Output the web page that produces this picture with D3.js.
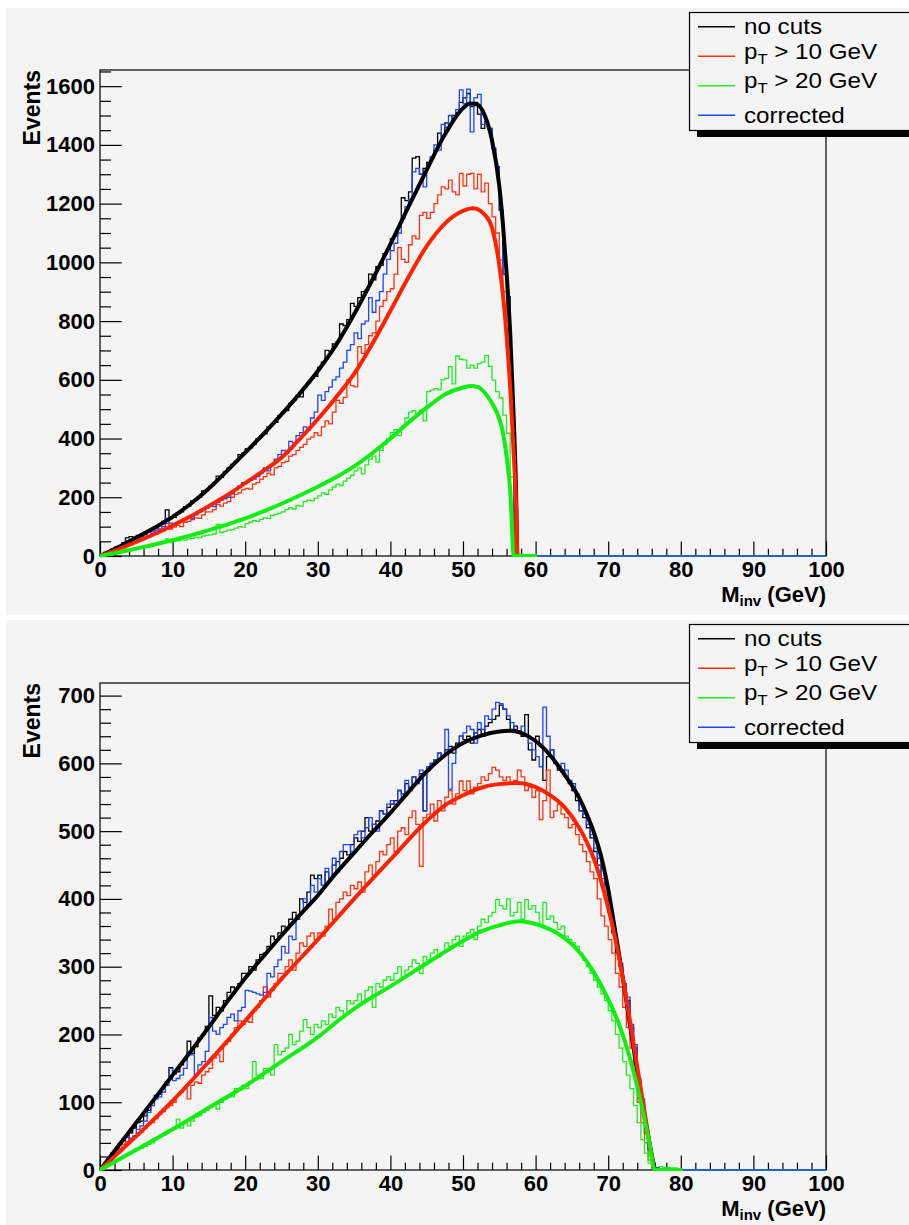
<!DOCTYPE html>
<html>
<head>
<meta charset="utf-8">
<script src="https://cdn.jsdelivr.net/npm/d3@7"></script>
<style>
  html, body { margin: 0; padding: 0; background: #ffffff; }
  svg { display: block; }
</style>
</head>
<body>
<svg id="chart" width="909" height="1225"></svg>
<script>
// ---------------------------------------------------------------------------
// Invariant-mass spectra, 0.5 GeV bins starting at 0 GeV (bins past the end
// of each list are empty).
// ---------------------------------------------------------------------------
const binWidth = 0.5;
const xTicks = [0, 10, 20, 30, 40, 50, 60, 70, 80, 90, 100];
const topYTicks = [0, 200, 400, 600, 800, 1000, 1200, 1400, 1600];
const bottomYTicks = [0, 100, 200, 300, 400, 500, 600, 700];
const legendLabels = ["no cuts", "p_T > 10 GeV", "p_T > 20 GeV", "corrected"];
const xTitle = ["M", "inv", " (GeV)"];
const yTitle = "Events";

// upper panel
const topNoCuts = [
  4,12,16,24,30,35,45,62,66,64,
  70,74,80,85,92,97,108,118,157,130,
  132,145,150,168,170,188,192,200,222,225,
  238,250,272,268,286,300,312,322,345,350,
  365,368,380,400,410,416,440,448,455,478,
  490,495,520,530,545,542,575,590,605,612,
  642,660,700,698,722,728,790,785,805,860,
  850,880,900,905,960,940,985,990,1030,1045,
  1080,1090,1120,1220,1210,1240,1355,1360,1300,1320,
  1340,1355,1380,1440,1430,1475,1470,1500,1510,1545,
  1560,1575,1530,1545,1505,1456,1480,1456,1388,1325,1178,960,883,538
];
const topPt10 = [
  3,8,14,18,24,28,33,40,44,46,
  50,56,60,64,70,75,80,86,110,92,
  98,104,100,115,118,124,130,128,140,150,
  150,158,175,170,180,185,200,210,215,225,
  230,228,245,250,262,270,282,276,300,305,
  318,322,340,345,360,370,380,398,405,420,
  410,440,460,450,490,530,520,540,600,580,
  576,713,690,720,750,760,800,850,870,900,
  910,960,1050,1010,1000,1060,1090,1080,1160,1170,
  1150,1170,1200,1230,1257,1250,1280,1240,1230,1303,
  1260,1300,1303,1250,1300,1240,1270,1200,1155,1100,1008,900,800,535
];
const topPt20 = [
  1,4,6,9,12,14,16,19,22,24,
  26,28,30,32,35,38,40,44,58,46,
  50,52,55,54,58,60,64,62,68,70,
  72,75,108,80,84,88,90,95,100,98,
  110,115,120,118,125,130,128,138,142,146,
  150,158,165,160,172,170,185,190,188,196,
  205,215,210,225,235,245,240,255,265,275,
  290,300,280,310,330,340,320,360,380,400,
  420,430,410,440,470,490,495,480,497,460,
  560,565,570,566,600,605,645,586,681,670,
  668,640,650,640,655,660,683,646,599,560,538,480,418,269
];
const topCorrected = [
  3,10,15,20,27,33,40,52,55,58,
  62,66,72,70,82,88,92,100,128,112,
  110,112,118,125,135,128,140,150,155,162,
  170,168,182,190,195,200,212,225,238,250,
  252,258,262,270,282,300,290,310,330,345,
  360,350,390,385,410,420,440,430,470,490,
  548,530,560,575,600,610,640,660,700,720,
  760,740,790,800,880,830,870,900,960,1010,
  1040,1065,1100,1150,1190,1215,1308,1320,1300,1257,
  1330,1360,1400,1382,1470,1460,1500,1490,1520,1587,
  1540,1590,1444,1560,1572,1470,1480,1456,1388,1325,1178,960,883,538
];

// fitted curves, upper panel: [mass, events]
const topFitNoCuts = [
  [0,0],[2.5,30],[5,62],[7.5,96],[10,133],[12.5,178],[15,230],[17.5,290],[20,352],
  [22.5,415],[25,482],[27.5,553],[30,630],[32.5,718],[35,823],[37.5,940],[40,1062],
  [42.5,1190],[45,1315],[47.5,1435],[50,1525],[51,1541],[52,1537],[53,1500],[54,1415],
  [55,1260],[55.5,1130],[56,965],[56.5,760],[57,460],[57.3,230],[57.5,0],[60,0]
];
const topFitPt10 = [
  [0,0],[2.5,23],[5,48],[7.5,75],[10,104],[12.5,135],[15,170],[17.5,207],[20,248],
  [22.5,290],[25,335],[27.5,398],[30,466],[32.5,540],[35,620],[37.5,722],[40,835],
  [42.5,950],[45,1055],[47.5,1132],[50,1175],[51.4,1184],[53,1162],[54,1118],[55,990],
  [55.5,890],[56,752],[56.5,575],[57,345],[57.3,180],[57.5,0],[60,0]
];
const topFitPt20 = [
  [0,0],[2.5,12],[5,25],[7.5,39],[10,54],[12.5,70],[15,88],[17.5,107],[20,128],
  [22.5,152],[25,178],[27.5,206],[30,236],[32.5,268],[35,305],[37.5,350],[40,400],
  [42.5,455],[45,505],[47.5,550],[50,574],[51.2,579],[52,576],[53,556],[54,520],
  [55,467],[55.5,420],[56,340],[56.5,225],[57,0],[60,0]
];

// lower panel
const bottomNoCuts = [
  3,10,18,25,30,38,45,42,55,62,
  70,72,80,88,100,110,112,120,130,151,
  142,145,155,162,190,172,182,195,200,212,
  257,228,240,235,250,262,270,268,275,290,
  290,300,295,310,318,320,330,345,340,350,
  360,355,370,380,375,400,395,410,435,430,
  435,420,440,430,450,455,460,470,465,480,
  490,485,500,520,500,510,515,530,525,535,
  540,545,560,555,570,565,580,575,585,530,
  590,600,605,615,610,620,625,615,630,640,
  635,640,630,645,650,640,655,660,665,670,
  686,680,665,650,655,648,640,672,620,605,
  640,625,575,610,620,600,590,590,580,570,
  560,545,530,520,505,490,470,450,420,400,
  380,350,320,300,270,250,210,180,130,100,
  55,30,8,3
];
const bottomPt10 = [
  3,8,14,20,26,32,38,42,46,50,
  52,56,62,68,70,76,82,86,92,95,
  100,110,115,120,105,125,130,128,140,145,
  150,165,170,160,185,190,200,210,220,215,
  220,218,235,240,250,270,255,265,275,290,
  290,300,310,295,320,335,330,345,350,340,
  350,345,360,385,370,395,400,410,405,420,
  415,425,410,440,450,435,455,470,465,480,
  490,470,500,505,495,520,530,510,448,520,
  525,540,515,545,530,550,560,540,555,574,
  560,574,555,565,570,580,575,585,594,590,
  580,575,580,570,575,590,580,560,565,550,
  560,517,545,590,520,530,540,525,520,505,
  510,495,480,470,455,440,430,400,375,360,
  340,320,290,270,240,210,180,140,100,70,
  40,15,4,0
];
const bottomPt20 = [
  2,5,8,11,14,17,20,23,26,29,
  30,32,35,38,40,45,48,52,55,58,
  60,75,62,70,65,72,78,80,85,88,
  92,95,90,100,105,110,108,120,118,125,
  120,130,160,140,135,150,145,140,185,170,
  175,180,200,185,190,205,222,210,200,215,
  210,220,215,230,225,240,235,230,250,245,
  250,260,245,265,270,240,275,270,280,285,
  280,290,300,285,295,300,310,305,290,315,
  310,320,325,315,320,335,330,340,345,330,
  345,350,355,340,360,370,365,375,380,399,
  390,385,400,375,380,395,370,399,385,390,
  380,360,395,370,375,365,355,360,345,340,
  335,330,320,310,300,290,280,270,260,250,
  235,220,200,180,160,140,120,95,70,45,
  25,10,5,3,5,4,4,3,3,2
];
const bottomCorrected = [
  3,9,17,24,30,38,45,48,47,50,
  60,65,72,85,95,105,108,115,125,150,
  132,135,140,150,172,170,140,155,160,175,
  225,205,200,210,215,225,230,220,235,240,
  265,264,262,260,258,262,290,285,300,310,
  330,320,345,340,370,380,400,390,420,410,
  430,420,445,430,460,440,470,480,480,470,
  495,500,490,505,520,510,500,530,525,540,
  545,540,560,550,575,560,580,570,590,530,
  595,600,605,615,610,650,562,600,625,640,
  645,655,650,630,660,650,670,665,680,690,
  688,680,670,660,650,645,655,640,630,620,
  610,595,683,640,620,600,595,600,590,575,
  570,555,530,525,510,495,475,460,430,410,
  385,355,330,305,275,255,215,185,135,105,
  60,30,10,3
];

// fitted curves, lower panel
const bottomFitNoCuts = [
  [0,0],[2.5,35],[5,70],[7.5,105],[10,140],[12.5,175],[15,211],[17.5,248],[20,283],
  [22.5,315],[25,346],[27.5,376],[30,405],[32.5,438],[35,468],[37.5,498],[40,527],
  [42.5,558],[45,588],[47.5,612],[50,630],[52.5,641],[55,647],[56.5,648],[58,645],
  [60,633],[62,612],[64,583],[66,549],[67,526],[68,499],[69,464],[70,414],[70.7,370],
  [71.5,318],[72.3,264],[73,214],[74,145],[75,80],[75.5,50],[76,22],[76.5,0],[80,0]
];
const bottomFitPt10 = [
  [0,0],[5,50],[10,102],[15,160],[20,220],[25,282],[30,340],[35,400],[40,458],
  [45,515],[47.5,538],[50,553],[52.5,564],[54.6,569],[57.4,571],[60,565],[62,553],
  [64,535],[66,505],[67,485],[68,460],[69,427],[70,387],[71,340],[72,284],[73,220],
  [74,152],[75,86],[75.5,53],[76,20],[76.4,0],[80,0]
];
const bottomFitPt20 = [
  [0,0],[5,30],[10,60],[15,92],[20,124],[25,160],[30,196],[33,222],[36,245],[40,271],
  [45,305],[50,338],[52.5,352],[55,361],[57.8,367],[60,363],[62,355],[64,342],
  [66,322],[68,292],[70,252],[71.6,212],[73,165],[74.4,105],[75.7,38],[76.4,0],[80,0]
];

// ---------------------------------------------------------------------------
const FONT = "'Liberation Sans', Arial, Helvetica, sans-serif";
const histColors = ["#000000", "#ff3311", "#22ee22", "#1f44ff"];
const fitColors = ["#000000", "#ff2200", "#11ee11"];
// text baselines of the legend rows, relative to the legend top
const legendBaselines = [21.5, 46.5, 75.5, 111];

const svg = d3.select("#chart");

const panels = [
  {
    padTop: 8, padHeight: 607, frameTop: 70, zeroY: 556, yMax: 1655,
    yMajor: topYTicks, yMinorStep: 50,
    hists: [topNoCuts, topPt10, topPt20, topCorrected],
    fits: [topFitNoCuts, topFitPt10, topFitPt20],
    legendTop: 12, id: "top"
  },
  {
    padTop: 620, padHeight: 605, frameTop: 683, zeroY: 1170, yMax: 718.6,
    yMajor: bottomYTicks, yMinorStep: 20,
    hists: [bottomNoCuts, bottomPt10, bottomPt20, bottomCorrected],
    fits: [bottomFitNoCuts, bottomFitPt10, bottomFitPt20],
    legendTop: 624, id: "bottom"
  }
];

panels.forEach(p => {
  const g = svg.append("g");

  // pad background
  g.append("rect")
    .attr("x", 6).attr("y", p.padTop)
    .attr("width", 903).attr("height", p.padHeight)
    .attr("fill", "#f4f4f4");

  const x = d3.scaleLinear().domain([0, 100]).range([100, 826]);
  const y = d3.scaleLinear().domain([0, p.yMax]).range([p.zeroY, p.frameTop]);

  const clipId = "clip-" + p.id;
  g.append("clipPath").attr("id", clipId)
    .append("rect")
    .attr("x", 100).attr("y", p.frameTop - 2)
    .attr("width", 727).attr("height", p.zeroY - p.frameTop + 3);

  // frame
  g.append("rect")
    .attr("x", 100).attr("y", p.frameTop)
    .attr("width", 726).attr("height", p.zeroY - p.frameTop)
    .attr("fill", "none").attr("stroke", "#000").attr("stroke-width", 1.2);

  // y axis: major ticks with labels, minor ticks inward
  const yMinor = d3.range(0, p.yMax, p.yMinorStep).filter(v => p.yMajor.indexOf(v) < 0);
  const yAxisMajor = d3.axisLeft(y).tickValues(p.yMajor).tickSize(-21.8).tickPadding(5)
    .tickFormat(d3.format("d"));
  const yAxisMinor = d3.axisLeft(y).tickValues(yMinor).tickSize(-11).tickFormat("");
  const ya = g.append("g").attr("transform", "translate(100,0)").call(yAxisMajor);
  g.append("g").attr("transform", "translate(100,0)").call(yAxisMinor);

  // x axis
  const xMinor = d3.range(0, 100, 2).filter(v => v % 10 !== 0);
  const xAxisMajor = d3.axisBottom(x).tickValues(xTicks).tickSize(-14.6).tickPadding(5)
    .tickFormat(d3.format("d"));
  const xAxisMinor = d3.axisBottom(x).tickValues(xMinor).tickSize(-7.3).tickFormat("");
  const xa = g.append("g").attr("transform", `translate(0,${p.zeroY})`).call(xAxisMajor);
  g.append("g").attr("transform", `translate(0,${p.zeroY})`).call(xAxisMinor);

  g.selectAll(".domain").remove();
  g.selectAll(".tick line").attr("stroke", "#000").attr("stroke-width", 1.2);
  [ya, xa].forEach(a => a.selectAll("text")
    .attr("font-family", FONT).attr("font-weight", "bold")
    .attr("font-size", 22).attr("fill", "#000"));

  // histograms drawn as steps
  const stepLine = d3.line()
    .x(d => x(d[0])).y(d => y(d[1]))
    .curve(d3.curveStepAfter);
  const plot = g.append("g").attr("clip-path", `url(#${clipId})`);
  p.hists.forEach((vals, k) => {
    const pts = d3.range(200).map(i => [i * binWidth, i < vals.length ? vals[i] : 0]);
    pts.push([100, 0]);
    plot.append("path")
      .attr("d", stepLine(pts))
      .attr("fill", "none")
      .attr("stroke", histColors[k])
      .attr("stroke-width", 1.3);
  });

  // smooth fit curves
  const fitLine = d3.line()
    .x(d => x(d[0])).y(d => y(d[1]))
    .curve(d3.curveMonotoneX);
  p.fits.forEach((pts, k) => {
    plot.append("path")
      .attr("d", fitLine(pts))
      .attr("fill", "none")
      .attr("stroke", fitColors[k])
      .attr("stroke-width", 4)
      .attr("stroke-linejoin", "round")
      .attr("stroke-linecap", "round");
  });

  // axis titles
  const xt = g.append("text")
    .attr("x", 826).attr("y", p.zeroY + 46)
    .attr("text-anchor", "end")
    .attr("font-family", FONT).attr("font-weight", "bold")
    .attr("font-size", 22).attr("fill", "#000");
  xt.append("tspan").text(xTitle[0]);
  xt.append("tspan").attr("dy", 4).attr("font-size", 15).text(xTitle[1]);
  xt.append("tspan").attr("dy", -4).text(xTitle[2]);

  g.append("text")
    .attr("transform", `translate(40,${p.frameTop}) rotate(-90)`)
    .attr("text-anchor", "end")
    .attr("font-family", FONT).attr("font-weight", "bold")
    .attr("font-size", 23).attr("fill", "#000")
    .text(yTitle);

  // legend with shadow
  const lt = p.legendTop;
  const lh = 118;
  g.append("rect")
    .attr("x", 697).attr("y", lt + 7)
    .attr("width", 220).attr("height", lh)
    .attr("fill", "#000");
  g.append("rect")
    .attr("x", 689.5).attr("y", lt + 0.5)
    .attr("width", 225).attr("height", lh)
    .attr("fill", "#f4f4f4").attr("stroke", "#000").attr("stroke-width", 1.2);

  const rowH = lh / 4;
  legendLabels.forEach((lab, k) => {
    const cy = lt + rowH * (k + 0.5);
    g.append("line")
      .attr("x1", 698).attr("x2", 735)
      .attr("y1", cy).attr("y2", cy)
      .attr("stroke", histColors[k]).attr("stroke-width", 1.3);
    // Helvetica-style labels, drawn slightly wide
    const t = g.append("text")
      .attr("transform", `translate(744,${lt + legendBaselines[k]}) scale(1.1,1)`)
      .attr("font-family", FONT).attr("font-size", 22).attr("fill", "#000");
    if (lab.indexOf("_") >= 0) {
      const head = lab.split("_")[0];
      const sub = lab.split("_")[1].charAt(0);
      const rest = lab.split("_")[1].slice(1);
      t.append("tspan").text(head);
      t.append("tspan").attr("dy", 5).attr("font-size", 15).text(sub);
      t.append("tspan").attr("dy", -5).text(rest);
    } else {
      t.text(lab);
    }
  });
});
</script>
</body>
</html>
